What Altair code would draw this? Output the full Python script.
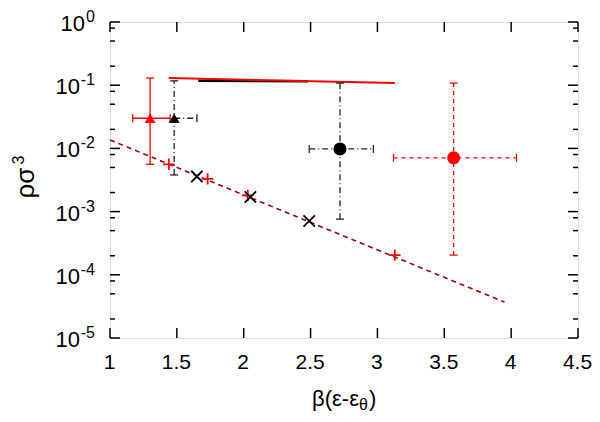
import altair as alt
import pandas as pd

# ---------------- data ----------------
PT_NAME = ["red_tri", "black_tri", "black_circ", "red_circ"]
PT_X = [1.30, 1.48, 2.72, 3.57]
PT_Y = [0.030, 0.030, 0.0098, 0.0071]
PT_XLO = [1.17, 1.48, 2.49, 3.12]
PT_XHI = [1.45, 1.65, 2.97, 4.04]
PT_YLO = [0.0056, 0.0038, 0.00076, 0.000205]
PT_YHI = [0.13, 0.117, 0.108, 0.108]
PT_LEFT_CAP = [True, False, True, True]

PLUS_X = [1.44, 1.73, 2.03, 3.13]
PLUS_Y = [0.0056, 0.0033, 0.0018, 0.000205]
CROSS_X = [1.65, 2.05, 2.49]
CROSS_Y = [0.0036, 0.0017, 0.00071]

FIT_X = [1.0, 3.95]
FIT_Y = [0.0136, 0.000037]
RED_LINE_X = [1.44, 3.13]
RED_LINE_Y = [0.13, 0.108]
BLACK_LINE_X = [1.66, 2.48]
BLACK_LINE_Y = [0.118, 0.116]

X_TICKS = [1, 1.5, 2, 2.5, 3, 3.5, 4, 4.5]
Y_TICKS = [1, 0.1, 0.01, 0.001, 0.0001, 0.00001]
Y_EXP = ["0", "-1", "-2", "-3", "-4", "-5"]
Y_MINOR = [m * 10.0 ** k for k in range(-5, 0) for m in (2, 5, 8)]

W, H = 468, 316
FONT = "Liberation Sans"

# ---------------- scales / helpers ----------------
xs = alt.Scale(domain=[1, 4.5], nice=False, zero=False)
ys = alt.Scale(type="log", domain=[1e-5, 1], nice=False)
xaxis = alt.Axis(values=X_TICKS, grid=False, ticks=False, domain=False,
                 labelFontSize=21, labelFont=FONT, labelColor="black",
                 labelPadding=13, labelFlush=False, labelOverlap=False,
                 labelOffset=-1, format="~g", title=None)


def X(f):
    return alt.X(f"{f}:Q", scale=xs, axis=xaxis, title=None)


def Y(f):
    return alt.Y(f"{f}:Q", scale=ys, axis=None, title=None)


pts = pd.DataFrame({"name": PT_NAME, "x": PT_X, "y": PT_Y, "xlo": PT_XLO,
                    "xhi": PT_XHI, "ylo": PT_YLO, "yhi": PT_YHI,
                    "lcap": PT_LEFT_CAP})

layers = []

# fit line (dashed, dark red)
fit = pd.DataFrame({"x": FIT_X, "y": FIT_Y})
layers.append(alt.Chart(fit).mark_line(color="#a00000", strokeWidth=1.6,
                                       strokeDash=[5, 4]).encode(x=X("x"), y=Y("y")))

# black solid line (under red)
bl = pd.DataFrame({"x": BLACK_LINE_X, "y": BLACK_LINE_Y})
layers.append(alt.Chart(bl).mark_line(color="black", strokeWidth=2.5).encode(x=X("x"), y=Y("y")))
rl = pd.DataFrame({"x": RED_LINE_X, "y": RED_LINE_Y})
layers.append(alt.Chart(rl).mark_line(color="red", strokeWidth=2).encode(x=X("x"), y=Y("y")))

STYLE = {
    "red_tri": dict(color="red", dash=[1, 0], shape="triangle-up", size=120),
    "black_tri": dict(color="#222222", dash=[6, 3, 1, 3], shape="triangle-up", size=120),
    "black_circ": dict(color="#222222", dash=[6, 3, 1, 3], shape="circle", size=170),
    "red_circ": dict(color="red", dash=[4, 4], shape="circle", size=170),
}

HCAP = "M-1,0H1"
VCAP = "M0,-1V1"

for name in PT_NAME:
    st = STYLE[name]
    d = pts[pts["name"] == name]
    row = d.iloc[0]
    layers.append(alt.Chart(d).mark_rule(color=st["color"], strokeWidth=1.3,
                                         strokeDash=st["dash"]).encode(
        x=X("x"), y=Y("ylo"), y2=alt.Y2("yhi")))
    layers.append(alt.Chart(d).mark_rule(color=st["color"], strokeWidth=1.3,
                                         strokeDash=st["dash"]).encode(
        x=X("xlo"), x2=alt.X2("xhi"), y=Y("y")))
    vc = pd.DataFrame({"x": [row["x"], row["x"]], "y": [row["ylo"], row["yhi"]]})
    layers.append(alt.Chart(vc).mark_point(shape=HCAP, size=64, color=st["color"],
                                           strokeWidth=1.3, opacity=1).encode(
        x=X("x"), y=Y("y")))
    hx = [row["xhi"]] + ([row["xlo"]] if row["lcap"] else [])
    hc = pd.DataFrame({"x": hx, "y": [row["y"]] * len(hx)})
    layers.append(alt.Chart(hc).mark_point(shape=VCAP, size=64, color=st["color"],
                                           strokeWidth=1.3, opacity=1).encode(
        x=X("x"), y=Y("y")))

for name in PT_NAME:
    st = STYLE[name]
    d = pts[pts["name"] == name]
    layers.append(alt.Chart(d).mark_point(shape=st["shape"], size=st["size"], filled=True,
                                          color="black" if "black" in name else "red",
                                          opacity=1).encode(x=X("x"), y=Y("y")))

plus = pd.DataFrame({"x": PLUS_X, "y": PLUS_Y})
layers.append(alt.Chart(plus).mark_point(shape="M-1,0H1M0,-1V1", size=130, color="red",
                                         strokeWidth=1.8, opacity=1).encode(x=X("x"), y=Y("y")))
cross = pd.DataFrame({"x": CROSS_X, "y": CROSS_Y})
layers.append(alt.Chart(cross).mark_point(shape="M-1,-1L1,1M-1,1L1,-1", size=130, color="black",
                                          strokeWidth=1.8, opacity=1).encode(x=X("x"), y=Y("y")))

# ---------------- inward ticks on all four sides ----------------
xt = pd.DataFrame({"x": X_TICKS})
for y0, y1 in [(H, H - 10), (0, 10)]:
    layers.append(alt.Chart(xt).mark_rule(color="black", strokeWidth=1.5).encode(
        x=X("x"), y=alt.value(y0), y2=alt.value(y1)))
yt = pd.DataFrame({"y": Y_TICKS})
ym = pd.DataFrame({"y": Y_MINOR})
for x0, x1, x2m in [(0, 10, 5), (W, W - 10, W - 5)]:
    layers.append(alt.Chart(yt).mark_rule(color="black", strokeWidth=1.5).encode(
        y=Y("y"), x=alt.value(x0), x2=alt.value(x1)))
    layers.append(alt.Chart(ym).mark_rule(color="black", strokeWidth=1.5).encode(
        y=Y("y"), x=alt.value(x0), x2=alt.value(x2m)))

# ---------------- y tick labels 10^n ----------------
lab = pd.DataFrame({"y": Y_TICKS, "e": Y_EXP})
lab0 = lab[lab["e"] == "0"]
labn = lab[lab["e"] != "0"]
layers.append(alt.Chart(lab).mark_text(font=FONT, fontSize=16, align="right", baseline="middle",
                                       dy=-5, color="black").encode(
    y=Y("y"), x=alt.value(-15), text="e:N"))
layers.append(alt.Chart(lab0).mark_text(font=FONT, fontSize=22, align="right", baseline="middle",
                                        dy=2, color="black", text="10").encode(
    y=Y("y"), x=alt.value(-25)))
layers.append(alt.Chart(labn).mark_text(font=FONT, fontSize=22, align="right", baseline="middle",
                                        dy=2, color="black", text="10").encode(
    y=Y("y"), x=alt.value(-30)))

# ---------------- axis titles ----------------
one = pd.DataFrame({"a": [0]})
layers.append(alt.Chart(one).mark_text(font=FONT, fontSize=22, align="right", baseline="alphabetic",
                                       color="black", text="β(ε-ε").encode(
    x=alt.value(249), y=alt.value(384)))
layers.append(alt.Chart(one).mark_text(font=FONT, fontSize=16, align="left", baseline="alphabetic",
                                       color="black", text="θ").encode(
    x=alt.value(249), y=alt.value(388)))
layers.append(alt.Chart(one).mark_text(font=FONT, fontSize=22, align="left", baseline="alphabetic",
                                       color="black", text=")").encode(
    x=alt.value(259), y=alt.value(384)))
layers.append(alt.Chart(one).mark_text(font=FONT, fontSize=26, align="center", baseline="alphabetic",
                                       angle=270, color="black", text="ρσ").encode(
    x=alt.value(-76), y=alt.value(161)))
layers.append(alt.Chart(one).mark_text(font=FONT, fontSize=16, align="center", baseline="alphabetic",
                                       angle=270, color="black", text="3").encode(
    x=alt.value(-86), y=alt.value(138)))

chart = alt.layer(*layers).properties(
    width=W, height=H,
    autosize=alt.AutoSizeParams(type="none"),
    padding={"left": 102, "top": 14, "right": 14, "bottom": 76},
).configure_view(stroke="black", strokeWidth=1.6).configure(background="white")

chart.save("out.html", embed_options={"renderer": "svg", "actions": False})
